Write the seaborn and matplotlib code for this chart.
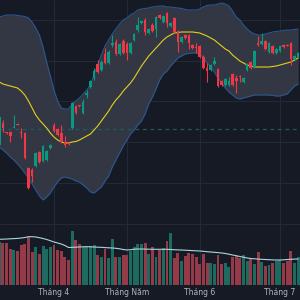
import numpy as np
import pandas as pd
import matplotlib
matplotlib.use('Agg')
import matplotlib.pyplot as plt
import seaborn as sns

sns.set_theme(style='dark')
plt.rcParams['font.family'] = ['DejaVu Sans']

# daily candles (price units are arbitrary)
opens = [158, 180, 170.5, 171, 175.5, 179.5, 171.5, 170, 135, 133,
         137, 151, 142, 143, 155, 178, 174, 170, 161, 160,
         175, 197, 197.5, 190, 208, 216, 225, 239, 233, 249,
         240, 258, 261, 249, 262, 259, 250, 263, 273, 280,
         283, 270, 278, 274, 288, 281, 290, 277, 285, 272,
         261, 268, 268, 258, 255.5, 257, 246, 235, 233, 239,
         234, 222, 218, 218, 229, 225, 226.5, 221, 233, 241,
         236, 260, 259, 262, 251, 257, 250, 252, 258, 258,
         260, 244, 246]
closes = [186, 175, 170, 167, 176, 178.5, 170.5, 145, 115, 127,
          150, 141, 157, 152, 158, 172, 168, 161, 158, 159.5,
          200, 190, 197, 201, 210, 222, 232, 231, 241, 240,
          251, 260, 249, 259, 250, 250, 260, 269, 278, 282,
          271, 274, 272, 286, 285, 287, 280, 280, 271, 261,
          266, 265, 260, 255, 255, 246, 235, 232, 238, 242,
          217, 218, 224, 222, 218, 222, 226, 225, 239, 235,
          252, 258, 262, 254, 260, 250, 254, 257, 256, 257.5,
          244, 247, 250]
highs = [188, 183, 171, 172, 188, 180, 175, 171, 136, 135,
         151, 152, 158, 153, 159, 180, 175, 178, 167, 161,
         201, 198, 198, 204, 213, 223, 235, 243, 243, 255,
         253, 268, 264, 260, 264, 261, 261, 270, 286, 283,
         285, 275, 280, 287, 289, 288, 291, 281, 286, 273,
         267, 269, 269, 259, 260, 258, 248, 240, 239, 246,
         235, 223, 225, 226, 230, 228, 228, 226, 240, 242,
         253, 267, 270, 263, 261, 258, 255, 258, 259, 259,
         261, 248, 251]
lows = [156, 171, 169, 161, 175, 178, 165, 144, 114, 121,
        136, 140, 141, 142, 154, 171, 167, 160, 156, 158,
        174, 189, 196.5, 189, 205, 215, 223, 230, 232, 239,
        239, 256, 248, 248, 249, 243, 249, 262, 271, 279,
        268, 269, 271, 266, 284, 280, 276, 276, 270, 251,
        260, 264, 254, 254, 250, 245, 234, 221, 232, 238,
        216, 217, 217, 217, 217, 210, 221, 220, 232, 234,
        235, 257, 258, 253, 250, 249, 249, 251, 255, 257,
        238, 243, 245]
volume = [42.7, 41.7, 42.3, 36, 35, 34, 40, 41.3, 47.7, 33.3,
          38.3, 31, 39, 36.3, 38, 40, 35, 34, 27.7, 25,
          54, 45, 41.3, 37.7, 38.3, 39, 39.7, 30, 28.3, 36,
          26.7, 46, 27.7, 28.3, 29.7, 30, 34.3, 37.7, 41, 40.7,
          42, 31, 38.3, 28.3, 35, 36.7, 44, 51.7, 26.7, 31.7,
          24, 29, 32.3, 30.7, 28.3, 21, 31, 22.3, 21.7, 21,
          29.7, 21, 22.3, 18.3, 28.3, 29, 27.3, 30, 24, 25.7,
          21, 33.3, 23.3, 19.3, 20, 21.7, 24, 24.7, 22.3, 24,
          34.3, 22.3, 27.7]
vol_ma = [45.7, 45.8, 46, 46.2, 46.4, 46.6, 47, 47.5, 48.3, 48.3,
          48, 47.3, 46.5, 45.5, 44.3, 43, 42, 41, 39.5, 37.5,
          37.7, 37.8, 38, 38.2, 38.3, 38.2, 38, 37.8, 37.7, 37.4,
          37.2, 37, 36.7, 36.2, 35.5, 35, 35.3, 35.8, 36, 36,
          35.9, 35.8, 35.7, 35.7, 35.7, 35.7, 35.7, 35.5, 35.3, 35.1,
          35, 34.8, 34.6, 34.4, 34.2, 34, 33.7, 33.3, 33, 32.7,
          32.4, 32, 31.5, 30.8, 30, 29.3, 28.5, 27.8, 27, 26.5,
          26.2, 25.9, 25.7, 25.5, 25.3, 25.1, 25, 25, 25.2, 25.5,
          25.7, 25.9, 26]

# bollinger bands as drawn
bb_upper = [286, 287, 288, 288, 288, 287.5, 287, 286.5, 285, 281,
            275, 268, 256, 241, 227, 213, 202, 195, 194, 194,
            199, 202, 205, 209, 213, 218, 228, 238, 248, 257,
            263, 269, 274, 279, 283, 285, 288, 290, 293, 294,
            294.5, 295, 296, 296.5, 297, 297, 296, 296, 295.5, 295,
            294.5, 293.5, 293, 293, 293, 294, 296, 297.5, 298, 298,
            299, 300, 299, 297, 292, 286, 283, 278, 274, 271,
            269, 268, 268, 269, 270, 271, 271.5, 272, 272.5, 273,
            273, 273.5, 274]
bb_mid = [221, 219, 218, 217, 216, 215, 212, 208, 202, 195,
          188, 183, 179, 175, 170, 166, 163, 161, 160, 160,
          161, 161.5, 163, 165, 167, 169, 173, 177, 182, 187,
          192, 198, 203, 207, 212, 216, 220, 225, 231, 237,
          242, 247, 251, 255, 259, 263, 266, 268, 270, 270.5,
          271, 271, 271, 271, 270.5, 270, 268.5, 267, 265, 263,
          260, 257, 254, 252, 248, 245, 242, 240, 238, 237,
          236, 236, 236, 236, 236, 236.5, 237, 238, 239, 240,
          241, 243, 245]
bb_lower = [156, 153, 150, 146, 143, 139, 135, 130, 125, 119,
            113, 107, 103, 106, 110, 116, 121, 125, 126, 125,
            124, 122, 121, 118, 115, 111, 110, 113, 116, 122,
            127, 136, 143, 150, 157, 163, 169, 173, 178, 182,
            189, 199, 206, 214, 223, 229, 232, 237, 241, 245,
            247, 249, 249.5, 250, 250, 249, 245, 240, 236, 231,
            225, 220, 215, 211, 208, 205, 204, 205, 206, 207,
            208, 208, 208, 208, 208, 207.5, 207, 207, 208, 209,
            213, 217, 219]

month_pos = [15, 35, 55, 77]
month_labels = ['Tháng 4', 'Tháng Năm', 'Tháng 6', 'Tháng 7']
price_grid = [79, 120, 161, 202, 242, 283]
last_ref = 174

BG = '#161a25'
GRID = '#252935'
UP = '#089981'
DOWN = '#f23645'
UP_VOL = '#1d6a5f'
DOWN_VOL = '#943a48'

df = pd.DataFrame({'open': opens, 'high': highs, 'low': lows, 'close': closes,
                   'volume': volume, 'vol_ma': vol_ma,
                   'upper': bb_upper, 'mid': bb_mid, 'lower': bb_lower})
df['idx'] = np.arange(len(df))
up = df['close'] >= df['open']
candle_col = np.where(up, UP, DOWN)
vol_col = np.where(up, UP_VOL, DOWN_VOL)

fig = plt.figure(figsize=(3, 3), dpi=100, facecolor=BG)
ax = fig.add_axes([0, 0.05, 1, 0.95])
ax.set_facecolor(BG)

# band
ax.fill_between(df['idx'], df['lower'], df['upper'], color='#333743', lw=0, zorder=1)
sns.lineplot(data=df, x='idx', y='upper', ax=ax, color='#2a5790', lw=0.8, zorder=2)
sns.lineplot(data=df, x='idx', y='lower', ax=ax, color='#2a5790', lw=0.8, zorder=2)
sns.lineplot(data=df, x='idx', y='mid', ax=ax, color='#e3cf1c', lw=0.8, zorder=3)
ax.axhline(last_ref, color='#1f5b5a', lw=0.9, ls=(0, (3, 3)), zorder=1.5)

# candles
ax.vlines(df['idx'], df['low'], df['high'], colors=candle_col, lw=0.8, zorder=4)
body = (df['close'] - df['open']).abs().clip(lower=0.9)
ax.bar(df['idx'], body, bottom=df[['open', 'close']].min(axis=1), width=0.72,
       color=candle_col, lw=0, zorder=5)

ax.set_xlim(0.19, 82.5)
ax.set_ylim(18, 303)
ax.set_xticks(month_pos)
ax.set_xticklabels(month_labels, color='#b2b5be', fontsize=5.5)
ax.set_yticks(price_grid)
ax.set_yticklabels([])
ax.tick_params(length=0, pad=2.5)
ax.grid(True, color=GRID, lw=0.8)
ax.set_xlabel('')
ax.set_ylabel('')
for s in ax.spines.values():
    s.set_visible(False)

# volume overlay
ax2 = ax.twinx()
ax2.bar(df['idx'], df['volume'], width=0.8, color=vol_col, lw=0, zorder=2)
sns.lineplot(data=df, x='idx', y='vol_ma', ax=ax2, color='#a9d6de', lw=0.8, zorder=3)
ax2.set_ylim(0, 285)
ax2.set_yticks([])
ax2.set_ylabel('')
ax2.grid(False)
for s in ax2.spines.values():
    s.set_visible(False)

fig.savefig('out.png', dpi=100, facecolor=BG)
